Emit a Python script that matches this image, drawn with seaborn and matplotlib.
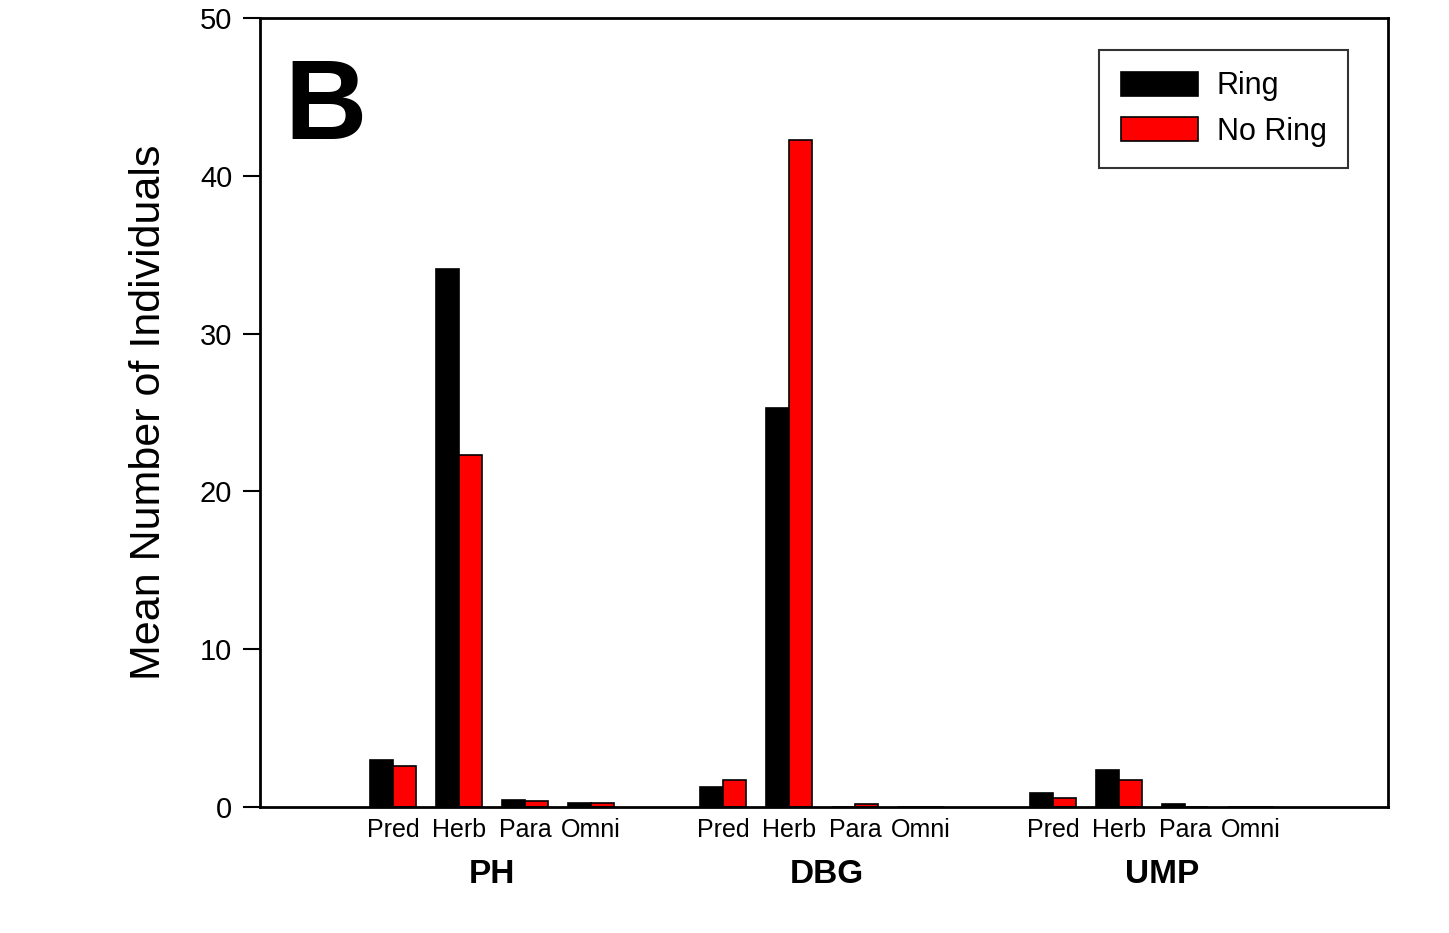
import numpy as np
import pandas as pd
import matplotlib
matplotlib.use("Agg")
import matplotlib.pyplot as plt
import seaborn as sns

# =============================
# DATA
# =============================
sites = ["PH", "DBG", "UMP"]
guilds = ["Pred", "Herb", "Para", "Omni"]
treatments = ["Ring", "No Ring"]

ring_vals = {
    "PH": [3.0, 34.1, 0.45, 0.25],
    "DBG": [1.3, 25.3, 0.0, 0.0],
    "UMP": [0.9, 2.35, 0.2, 0.0],
}
noring_vals = {
    "PH": [2.6, 22.3, 0.4, 0.25],
    "DBG": [1.7, 42.3, 0.2, 0.0],
    "UMP": [0.6, 1.7, 0.0, 0.0],
}

colors = ["#000000", "#ff0000"]

rows = []
for site in sites:
    for g, guild in enumerate(guilds):
        rows.append((f"{site} {guild}", "Ring", ring_vals[site][g]))
        rows.append((f"{site} {guild}", "No Ring", noring_vals[site][g]))
df = pd.DataFrame(rows, columns=["slot", "treatment", "value"])

# slot order with one empty spacer between sites
order = []
for i, site in enumerate(sites):
    if i > 0:
        order.append(" " * i)
    order += [f"{site} {g}" for g in guilds]

# =============================
# PLOT
# =============================
sns.set_style("ticks")
plt.rcParams["font.family"] = ["Liberation Sans", "DejaVu Sans"]
plt.rcParams["text.color"] = "black"
plt.rcParams["axes.labelcolor"] = "black"
plt.rcParams["xtick.color"] = "black"
plt.rcParams["ytick.color"] = "black"

fig = plt.figure(figsize=(14.49, 9.33), dpi=100)
ax = fig.add_axes([0.1794, 0.135, 0.958 - 0.1794, 0.9807 - 0.135])

sns.barplot(
    data=df, x="slot", y="value", hue="treatment", order=order,
    hue_order=treatments, palette=colors, width=0.7, saturation=1,
    edgecolor="black", linewidth=1.2, ax=ax, legend=True,
)

ax.set_xlim(-2.02, 15.08)
ax.set_ylim(0, 50)
ax.set_yticks([0, 10, 20, 30, 40, 50])
ax.tick_params(axis="y", direction="out", length=12, width=1.5,
               labelsize=21, pad=8)

labels = ["" if s.strip() == "" else s.split(" ")[1] for s in order]
ax.set_xticks(range(len(order)))
ax.set_xticklabels(labels, fontsize=18)
ax.tick_params(axis="x", length=0, pad=8)

for i, site in enumerate(sites):
    ax.text(1.5 + 5.08 * i, -0.085, site,
            transform=ax.get_xaxis_transform(),
            ha="center", va="center", fontsize=24, fontweight="bold")

ax.set_xlabel("")
ax.set_ylabel("Mean Number of Individuals", fontsize=31, labelpad=22)

for side in ["top", "right", "left", "bottom"]:
    ax.spines[side].set_visible(True)
    ax.spines[side].set_linewidth(2)
    ax.spines[side].set_color("black")

ax.text(0.022, 0.95, "B", transform=ax.transAxes, fontsize=82,
        fontweight="bold", ha="left", va="top", color="black")

leg = ax.legend(loc="upper right", bbox_to_anchor=(0.9645, 0.9594),
                borderaxespad=0, fontsize=22, handlelength=2.55,
                handleheight=0.8, frameon=True, fancybox=False,
                borderpad=0.7, labelspacing=0.5, handletextpad=0.6)
leg.get_frame().set_edgecolor("black")
leg.get_frame().set_linewidth(1.5)

fig.savefig("out.png", dpi=100)
